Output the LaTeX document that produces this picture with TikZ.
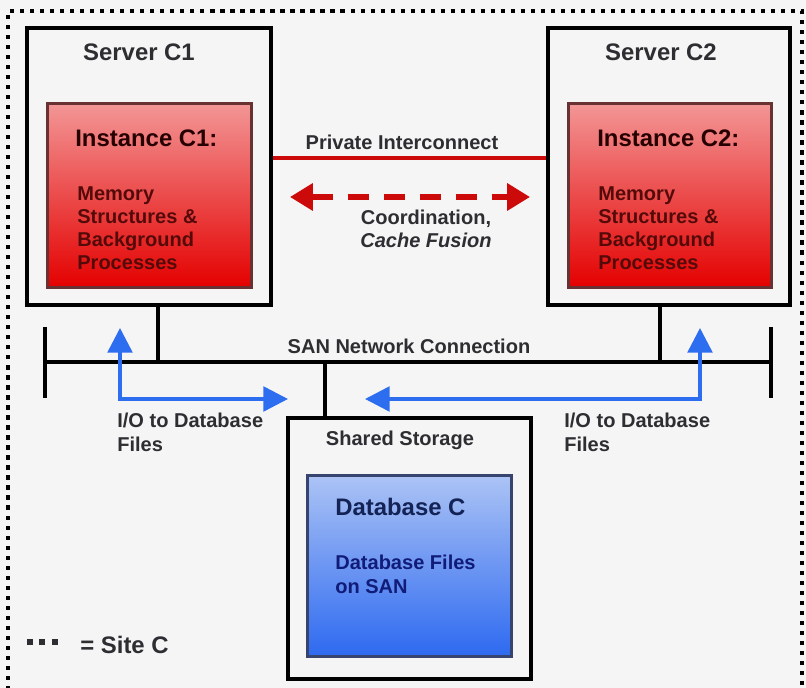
\documentclass[tikz,border=0pt]{standalone}
\usepackage{fontspec}
\setmainfont{Liberation Sans}
\usetikzlibrary{arrows.meta,positioning}

\definecolor{bgpage}{RGB}{245,245,245}
\definecolor{instpink}{RGB}{243,150,150}
\definecolor{instred}{RGB}{228,0,0}
\definecolor{instedge}{RGB}{105,50,50}
\definecolor{instbody}{RGB}{85,10,10}
\definecolor{dblight}{RGB}{172,195,245}
\definecolor{dbblue}{RGB}{45,105,240}
\definecolor{dbedge}{RGB}{55,68,110}
\definecolor{dbtext}{RGB}{20,35,85}
\definecolor{ioblue}{RGB}{45,110,240}
\definecolor{linkred}{RGB}{205,10,10}
\definecolor{labgrey}{RGB}{45,45,50}

\begin{document}
\begin{tikzpicture}[x=0.02cm, y=-0.02cm,
    box/.style={draw, line width=2.2pt, inner sep=0pt},
    inst/.style={draw=instedge, line width=1.7pt, top color=instpink, bottom color=instred, inner sep=0pt},
    db/.style={draw=dbedge, line width=1.7pt, top color=dblight, bottom color=dbblue, inner sep=0pt},
    bigtxt/.style={font=\fontsize{13.6}{16}\selectfont\bfseries, inner sep=0pt},
    smalltxt/.style={font=\fontsize{11.4}{13.2}\selectfont\bfseries, inner sep=0pt, align=left},
    bus/.style={line width=2.3pt},
    io/.style={{Triangle[length=14pt,width=14pt]}-{Triangle[length=14pt,width=14pt]}, line width=2pt, ioblue},
    site/.style={dash pattern=on 2.4pt off 3.3pt, line width=2.4pt}
]
\useasboundingbox[fill=bgpage] (0,0) rectangle (806,688);
\draw[site] (8,700) -- (8,11) -- (802,11) -- (802,700);

% servers and instances
\node[box, minimum width=4.88cm, minimum height=5.54cm] (srv1) at (149,166.5) {};
\node[box, minimum width=4.84cm, minimum height=5.54cm] (srv2) at (669,166.5) {};
\node[bigtxt, labgrey] (srv1t) at (139,52) {Server C1};
\node[bigtxt, labgrey] (srv2t) at (661,52) {Server C2};
\node[inst, minimum width=4.1cm, minimum height=3.7cm] (inst1) at (149.5,195.5) {};
\node[inst, minimum width=4.08cm, minimum height=3.7cm] (inst2) at (670,195.5) {};
\node[bigtxt, anchor=west, black!85!red] (inst1t) at (75,138) {Instance C1:};
\node[bigtxt, anchor=west, black!85!red] (inst2t) at (597,138) {Instance C2:};
\node[smalltxt, anchor=north west, instbody] (inst1b) at (77,186) {Memory\\Structures \&\\Background\\Processes};
\node[smalltxt, anchor=north west, instbody] (inst2b) at (598,186) {Memory\\Structures \&\\Background\\Processes};

% interconnect
\coordinate (pic) at (400,158);
\draw[linkred, line width=1.8pt] (srv1.east |- pic) -- (srv2.west |- pic);
\node[smalltxt, labgrey] (pict) at (402,142) {Private Interconnect};
\coordinate (cfL) at (290,197);
\coordinate (cfR) at (530,197);
\draw[linkred, line width=3pt, dash pattern=on 12pt off 8.5pt,
    {Triangle[length=13pt,width=15pt]}-{Triangle[length=13pt,width=15pt]}] (cfL) -- (cfR);
\node[smalltxt, align=center, labgrey] (cft) at (426,229) {Coordination,\\\textit{Cache Fusion}};

% SAN
\coordinate (busL) at (45,362);
\coordinate (busR) at (771,362);
\coordinate (tap1) at (158,362);
\coordinate (tap2) at (660,362);
\coordinate (tapS) at (325,362);
\draw[bus] (busL) -- (busR);
\draw[bus] (45,327) -- (45,398);
\draw[bus] (771,327) -- (771,398);
\draw[bus] (srv1.south -| tap1) -- (tap1);
\draw[bus] (srv2.south -| tap2) -- (tap2);
\node[smalltxt, labgrey] (sant) at (409,346) {SAN Network Connection};

% storage
\node[box, minimum width=4.86cm, minimum height=5.22cm] (stor) at (409.5,548.5) {};
\draw[bus] (tapS) -- (stor.north -| tapS);
\node[smalltxt, labgrey] (stort) at (400,440) {Shared Storage};
\node[db, minimum width=4.1cm, minimum height=3.64cm] (dbc) at (409.5,566) {};
\node[bigtxt, anchor=west, dbtext] (dbct) at (335,507) {Database C};
\node[smalltxt, anchor=north west, dbtext!80!blue] (dbcb) at (335,555) {Database Files\\on SAN};

% I/O paths
\coordinate (io1a) at (120,328);
\coordinate (io1b) at (288,399);
\coordinate (io2a) at (700,328);
\coordinate (io2b) at (365,399);
\draw[io] (io1a) |- (io1b);
\draw[io] (io2a) |- (io2b);
\node[smalltxt, anchor=north west, labgrey] (io1t) at (117,413) {I/O to Database\\Files};
\node[smalltxt, anchor=north west, labgrey] (io2t) at (564,413) {I/O to Database\\Files};

% legend
\node[bigtxt, anchor=west, labgrey] (legt) at (80,645) {= Site C};
\draw[labgrey, line width=3.2pt, dash pattern=on 3.4pt off 3.7pt] (27,642) -- (59,642);
\end{tikzpicture}
\end{document}
